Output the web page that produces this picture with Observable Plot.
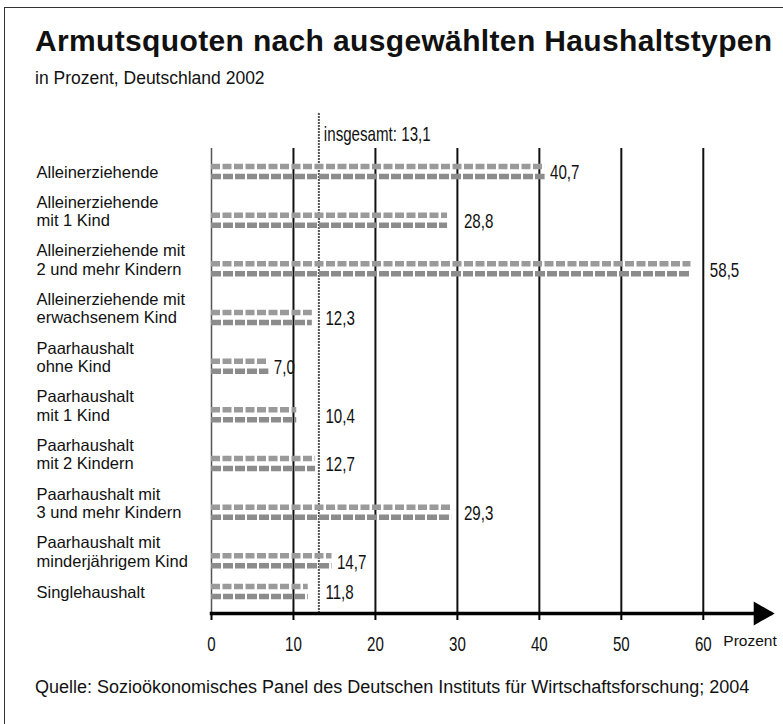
<!DOCTYPE html>
<html>
<head>
<meta charset="utf-8">
<script src="https://cdn.jsdelivr.net/npm/d3@7"></script>
<script src="https://cdn.jsdelivr.net/npm/@observablehq/plot@0.6"></script>
<style>
  html, body { margin: 0; padding: 0; background: #fff; }
  body { width: 783px; height: 724px; position: relative; overflow: hidden; font-family: "Liberation Sans", Arial, Helvetica, sans-serif; color: #111; }
  #frame { position: absolute; left: 4px; top: 7px; width: 790px; height: 730px; border-top: 1.5px solid #333; border-left: 1.5px solid #333; }
  #title { position: absolute; left: 35px; top: 24px; font-size: 30px; font-weight: bold; white-space: nowrap; letter-spacing: 0.35px; }
  #subtitle { position: absolute; left: 35px; top: 68px; font-size: 17.5px; white-space: nowrap; }
  #chart { position: absolute; left: 0; top: 100px; }
  #caption { position: absolute; left: 35px; top: 677px; font-size: 18px; white-space: nowrap; }
</style>
</head>
<body>
<div id="frame"></div>
<div id="title">Armutsquoten nach ausgewählten Haushaltstypen</div>
<div id="subtitle">in Prozent, Deutschland 2002</div>
<div id="chart"></div>
<div id="caption">Quelle: Sozioökonomisches Panel des Deutschen Instituts für Wirtschaftsforschung; 2004</div>
<script>
// ---- data ----
const categories = [
  "Alleinerziehende",
  "Alleinerziehende\nmit 1 Kind",
  "Alleinerziehende mit\n2 und mehr Kindern",
  "Alleinerziehende mit\nerwachsenem Kind",
  "Paarhaushalt\nohne Kind",
  "Paarhaushalt\nmit 1 Kind",
  "Paarhaushalt\nmit 2 Kindern",
  "Paarhaushalt mit\n3 und mehr Kindern",
  "Paarhaushalt mit\nminderjährigem Kind",
  "Singlehaushalt"
];
const values = [40.7, 28.8, 58.5, 12.3, 7.0, 10.4, 12.7, 29.3, 14.7, 11.8];
const overall = 13.1;
const overallLabel = "insgesamt: 13,1";
const xTicks = [0, 10, 20, 30, 40, 50, 60];
const unitLabel = "Prozent";

// ---- layout of rows: derived from number of label lines ----
const gap = 0.704;
let acc = 0;
const verticals = xTicks.concat([overall]);
const rows = categories.map((label, i) => {
  const lines = label.split("\n").length;
  if (i > 0) acc += lines + gap;
  const v = values[i];
  // label goes just past the bar, or past a vertical line that sits right behind the bar end
  const near = verticals.filter(t => t > v && t - v < 2.9).sort((a, b) => a - b)[0];
  const labelAt = near !== undefined ? near + 0.8 : v + 0.6;
  return {label, value: v, slot: acc, labelAt};
});
const lastSlot = acc;

const fmt = v => v.toFixed(1).replace(".", ",");
const sans = "'Liberation Sans', Arial, Helvetica, sans-serif";

const chart = Plot.plot({
  width: 783,
  height: 565,
  marginLeft: 211,
  marginRight: 13,
  marginTop: 48,
  marginBottom: 52,
  style: {fontFamily: sans, fontSize: "16px", color: "#111", background: "transparent"},
  x: {domain: [0, 68.2], axis: null},
  y: {domain: [0, lastSlot], range: [71, 491], axis: null},
  marks: [
    Plot.ruleX([0], {stroke: "#555", strokeWidth: 1.5}),
    Plot.ruleX(xTicks.slice(1), {stroke: "#111", strokeWidth: 2}),
    Plot.ruleX([overall], {stroke: "#555", strokeWidth: 2, strokeDasharray: "2,1", insetTop: -35}),
    Plot.text([overallLabel], {x: overall, frameAnchor: "top", dy: -22, dx: 5, textAnchor: "start", fontSize: 21, fill: "#111"}),
    Plot.ruleY(rows, {y: "slot", x1: 0, x2: "value", dy: -5, stroke: "#9a9a9a", strokeWidth: 5.5, strokeDasharray: "9,2.5"}),
    Plot.ruleY(rows, {y: "slot", x1: 0, x2: "value", dy: 5, stroke: "#8c8c8c", strokeWidth: 5.5, strokeDasharray: "10,2"}),
    Plot.text(rows, {y: "slot", x: "labelAt", text: d => fmt(d.value), dy: 1, textAnchor: "start", fontSize: 21, fill: "#111"}),
    Plot.text(rows, {y: "slot", text: "label", frameAnchor: "left", dx: -175, dy: 6, textAnchor: "start", lineAnchor: "bottom", lineHeight: 1.12, fontSize: 16.5, fill: "#111"}),
    Plot.frame({anchor: "bottom", stroke: "#000", strokeWidth: 3.5}),
    Plot.dot([67], {x: d => d, frameAnchor: "bottom", symbol: "triangle", rotate: 90, r: 8, fill: "#000", stroke: "#000"}),
    Plot.axisX(xTicks, {label: null, tickSize: 7, tickPadding: 16, fontSize: 21, strokeWidth: 2, stroke: "#000", fill: "#111", tickFormat: d => String(d)}),
    Plot.text([unitLabel], {x: 60, frameAnchor: "bottom", dx: 20, dy: 32, textAnchor: "start", fontSize: 15.5, fill: "#111"})
  ]
});
document.getElementById("chart").appendChild(chart);

// condensed look for numeric labels (like the original's narrow typeface)
const condensed = /^[\d,]+$|insgesamt/;
chart.querySelectorAll("text").forEach(t => {
  if (t.querySelector("tspan")) return;
  const s = t.textContent.trim();
  if (condensed.test(s)) {
    const w = t.getComputedTextLength();
    t.setAttribute("textLength", (w * 0.72).toFixed(1));
    t.setAttribute("lengthAdjust", "spacingAndGlyphs");
  }
});
</script>
</body>
</html>
